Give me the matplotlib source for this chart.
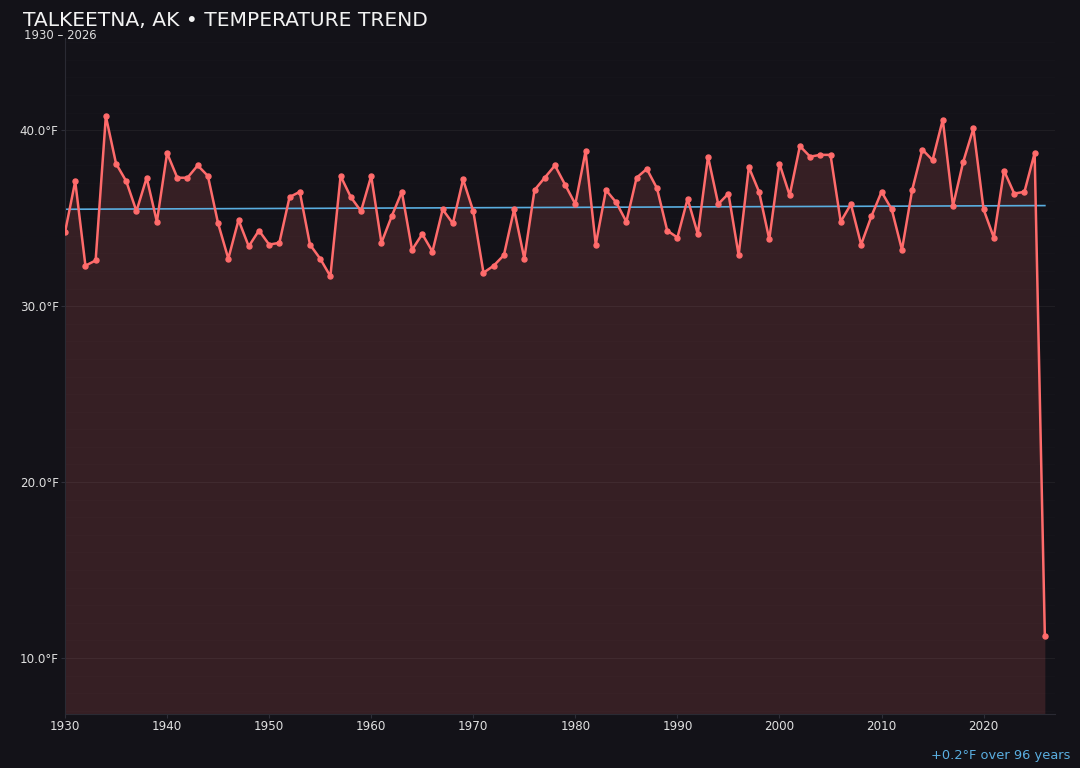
import numpy as np
import matplotlib
matplotlib.use("Agg")
import matplotlib.pyplot as plt
from matplotlib.ticker import MultipleLocator, FuncFormatter

years = np.arange(1930, 2027)
temps = [
    34.2, 37.1, 32.3, 32.6, 40.8, 38.1, 37.1, 35.4, 37.3, 34.8,  # 1930s
    38.7, 37.3, 37.3, 38.0, 37.4, 34.7, 32.7, 34.9, 33.4, 34.3,  # 1940s
    33.5, 33.6, 36.2, 36.5, 33.5, 32.7, 31.7, 37.4, 36.2, 35.4,  # 1950s
    37.4, 33.6, 35.1, 36.5, 33.2, 34.1, 33.1, 35.5, 34.7, 37.2,  # 1960s
    35.4, 31.9, 32.3, 32.9, 35.5, 32.7, 36.6, 37.3, 38.0, 36.9,  # 1970s
    35.8, 38.8, 33.5, 36.6, 35.9, 34.8, 37.3, 37.8, 36.7, 34.3,  # 1980s
    33.9, 36.1, 34.1, 38.5, 35.8, 36.4, 32.9, 37.9, 36.5, 33.8,  # 1990s
    38.1, 36.3, 39.1, 38.5, 38.6, 38.6, 34.8, 35.8, 33.5, 35.1,  # 2000s
    36.5, 35.5, 33.2, 36.6, 38.9, 38.3, 40.6, 35.7, 38.2, 40.1,  # 2010s
    35.5, 33.9, 37.7, 36.4, 36.5, 38.7, 11.25,                   # 2020s
]
temps = np.array(temps)

bg = '#131218'
line_c = '#ff6b6b'
trend_c = '#5aaee0'

fig = plt.figure(figsize=(10.8, 7.68), dpi=100, facecolor=bg)
ax = fig.add_axes([0.0602, 0.0703, 0.9167, 0.880])
ax.set_facecolor(bg)

lo, hi = temps.min(), temps.max()
pad = (hi - lo) * 0.15
ax.set_ylim(lo - pad, hi + pad)
ax.set_xlim(1930, 2027)

ax.fill_between(years, lo - pad, temps, color=line_c, alpha=0.15, lw=0)
ax.plot(years, temps, color=line_c, lw=1.8, marker='o', ms=3.6, zorder=3)

# linear trend
k, b = np.polyfit(years, temps, 1)
ax.plot(years, k * years + b, color=trend_c, lw=1.2, zorder=2)

ax.yaxis.set_major_locator(MultipleLocator(10))
ax.yaxis.set_minor_locator(MultipleLocator(1))
ax.yaxis.set_major_formatter(FuncFormatter(lambda v, p: f'{v:.1f}°F'))
ax.xaxis.set_major_locator(MultipleLocator(10))
ax.grid(axis='y', which='major', color='#ffffff', alpha=0.05, lw=0.8)
ax.grid(axis='y', which='minor', color='#ffffff', alpha=0.012, lw=0.6)
ax.tick_params(which='minor', length=0)
ax.tick_params(which='major', colors='#2e2e38', labelcolor='#e0e0e0',
               labelsize=8.6, length=3, pad=1.5)
for s in ['top', 'right']:
    ax.spines[s].set_visible(False)
for s in ['left', 'bottom']:
    ax.spines[s].set_color('#2a2a33')

fig.text(0.021, 0.973, 'TALKEETNA, AK • TEMPERATURE TREND', color='#f2f2f2',
         fontsize=14.6, va='center', ha='left')
fig.text(0.022, 0.954, '1930 – 2026', color='#dddddd', fontsize=8.4,
         va='center', ha='left')
fig.text(0.991, 0.016, '+0.2°F over 96 years', color=trend_c, fontsize=9.4,
         ha='right', va='center')

fig.savefig('out.png', dpi=100, facecolor=bg)
